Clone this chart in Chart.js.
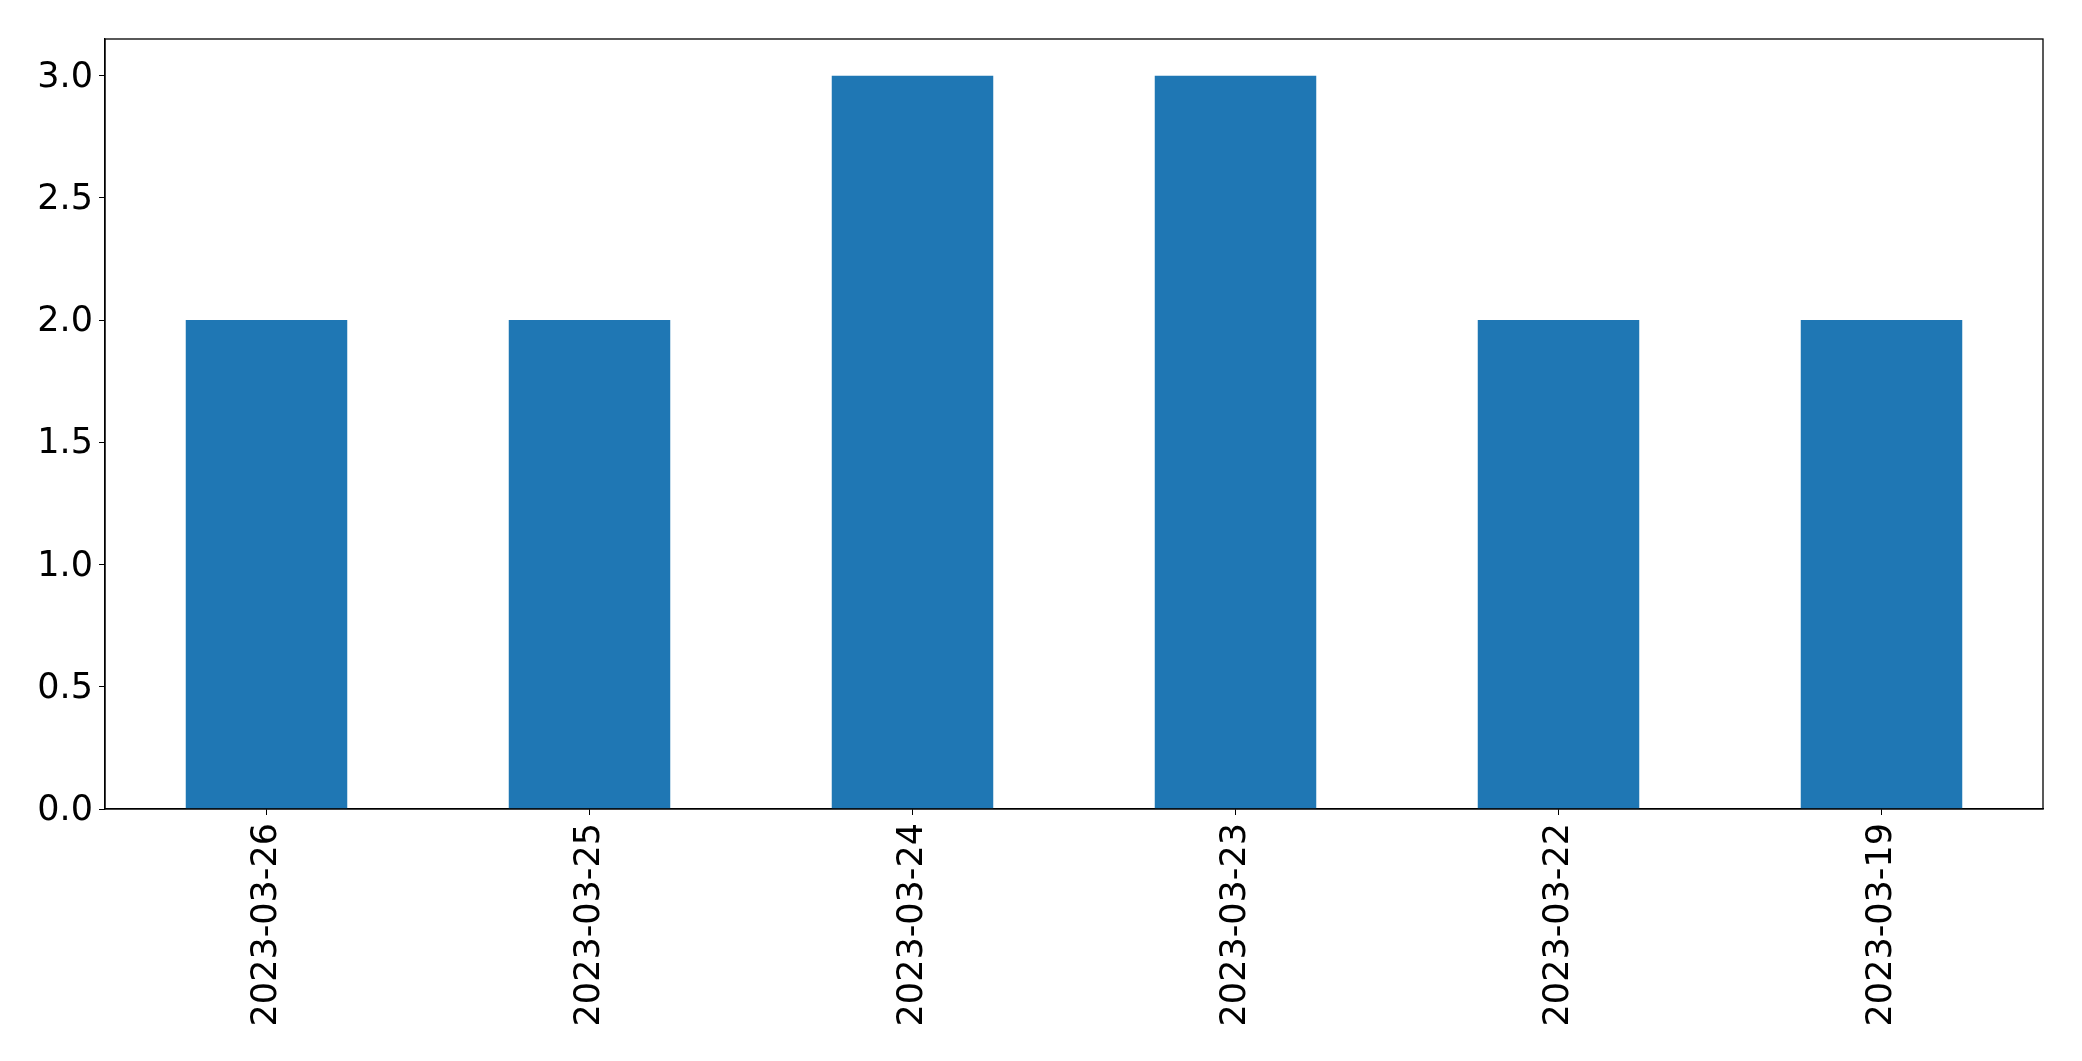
<!DOCTYPE html>
<html>
<head>
<meta charset="utf-8">
<script src="https://cdn.jsdelivr.net/npm/chart.js@4/dist/chart.umd.min.js"></script>
<style>
  body { margin: 0; background: #fff; }
  canvas { display: block; }
</style>
</head>
<body>
<canvas id="grafico" width="2082" height="1061"></canvas>
<script>
const fechas = ['2023-03-26', '2023-03-25', '2023-03-24', '2023-03-23', '2023-03-22', '2023-03-19'];
const cantidades = [2, 2, 3, 3, 2, 2];
const ticksY = [0, 0.5, 1.0, 1.5, 2.0, 2.5, 3.0];

// marco completo alrededor del area del grafico
const marco = {
  id: 'marco',
  afterDraw(chart) {
    const { ctx, chartArea } = chart;
    ctx.save();
    ctx.strokeStyle = '#000';
    ctx.lineWidth = 1.3;
    ctx.strokeRect(chartArea.left, chartArea.top, chartArea.right - chartArea.left, chartArea.bottom - chartArea.top);
    ctx.restore();
  }
};

Chart.defaults.font.family = "'DejaVu Sans', sans-serif";
Chart.defaults.color = '#000';

new Chart(document.getElementById('grafico').getContext('2d'), {
  type: 'bar',
  data: {
    labels: fechas,
    datasets: [{
      data: cantidades,
      backgroundColor: '#1f77b4',
      barPercentage: 0.5,
      categoryPercentage: 1.0
    }]
  },
  options: {
    responsive: false,
    animation: false,
    layout: { padding: { top: 39, right: 39, left: 0, bottom: 0 } },
    plugins: { legend: { display: false }, tooltip: { enabled: false } },
    scales: {
      x: {
        grid: { display: true, drawOnChartArea: false, drawTicks: true, tickLength: 6, color: '#000', offset: false },
        border: { display: true, color: '#000', width: 1.3 },
        ticks: { font: { size: 35 }, minRotation: 90, maxRotation: 90, padding: 8, autoSkip: false },
        afterFit(scale) { scale.height = 252; }
      },
      y: {
        min: 0,
        max: 3.15,
        grid: { display: true, drawOnChartArea: false, drawTicks: true, tickLength: 6, color: '#000' },
        border: { display: true, color: '#000', width: 1.3 },
        ticks: {
          font: { size: 35 },
          stepSize: 0.5,
          includeBounds: false,
          padding: 6,
          labelOffset: 2,
          callback: v => ticksY.includes(v) ? v.toFixed(1) : null
        },
        afterFit(scale) { scale.width = 105; }
      }
    }
  },
  plugins: [marco]
});
</script>
</body>
</html>
